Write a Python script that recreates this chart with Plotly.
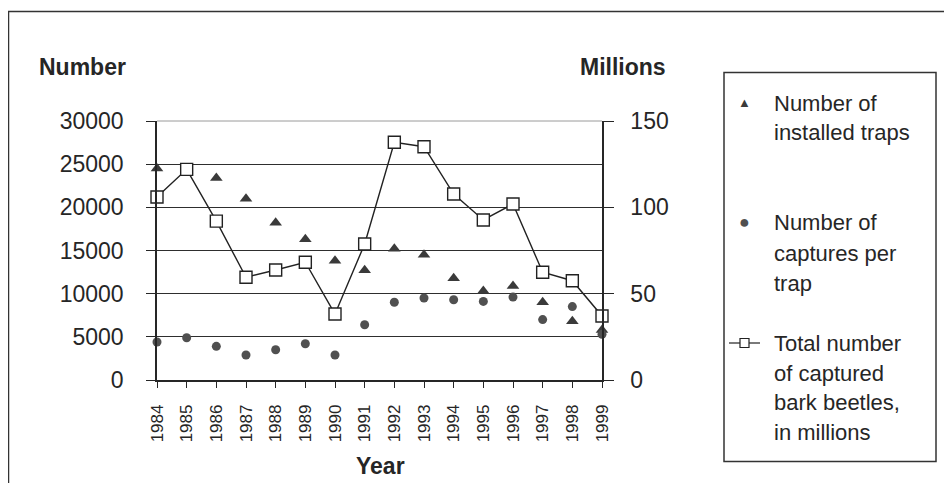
import plotly.graph_objects as go

# ---- data ----
years = [1984, 1985, 1986, 1987, 1988, 1989, 1990, 1991, 1992, 1993, 1994, 1995, 1996, 1997, 1998, 1999]
year_labels = [str(y) for y in years]
installed_traps = [24500, 24200, 23400, 21000, 18200, 16300, 13800, 12700, 15200, 14500, 11800, 10300, 10900, 9000, 6800, 5800]
captures_per_trap = [4400, 4900, 3900, 2900, 3500, 4200, 2900, 6400, 9000, 9500, 9300, 9100, 9600, 7000, 8500, 5300]
total_captured_millions = [106, 122, 92, 59.5, 63.7, 68.2, 38.2, 78.8, 137.7, 135.1, 107.7, 92.7, 101.9, 62.4, 57.5, 37.1]
left_ticks = [0, 5000, 10000, 15000, 20000, 25000, 30000]
left_tick_labels = ["0", "5000", "10000", "15000", "20000", "25000", "30000"]
right_ticks = [0, 50, 100, 150]
right_tick_labels = ["0", "50", "100", "150"]

# the page body has an 8px margin: figure is drawn in reference pixels minus 8
OFF = 8
W, H = 952 - 2 * OFF, 491 - 2 * OFF
L, R, T, B = 157, 602, 121, 380  # plot area in reference pixels


def px(x):
    return (x - L) / (R - L)


def py(y):
    return (B - y) / (B - T)


FONT = "Arial, Liberation Sans, sans-serif"
INK = "#262626"

fig = go.Figure()
fig.add_trace(go.Scatter(
    x=years, y=installed_traps, mode="markers", name="Number of installed traps",
    marker=dict(symbol="triangle-up", size=11, color="#3a3a3a"), yaxis="y", cliponaxis=False))
fig.add_trace(go.Scatter(
    x=years, y=captures_per_trap, mode="markers", name="Number of captures per trap",
    marker=dict(symbol="circle", size=9, color="#505050"), yaxis="y", cliponaxis=False))
fig.add_trace(go.Scatter(
    x=years, y=total_captured_millions, mode="lines+markers",
    name="Total number of captured bark beetles, in millions",
    line=dict(color="#222222", width=1.4),
    marker=dict(symbol="square", size=12, color="white", line=dict(color="#222222", width=1.4)),
    yaxis="y2", cliponaxis=False))

fig.update_layout(
    width=W, height=H, autosize=False,
    margin=dict(l=L - OFF, r=W - (R - OFF), t=T - OFF, b=H - (B - OFF), pad=0),
    paper_bgcolor="white", plot_bgcolor="white",
    showlegend=False,
    font=dict(family=FONT, color=INK),
    xaxis=dict(
        range=[years[0], years[-1]], tickmode="array", tickvals=years, ticktext=year_labels,
        tickangle=-90, tickfont=dict(size=17, color=INK), ticks="outside", ticklen=6,
        tickcolor=INK, ticklabelstandoff=10,
        showline=True, linecolor=INK, linewidth=1.5, showgrid=False, zeroline=False),
    yaxis=dict(
        range=[0, 30000], tickmode="array", tickvals=left_ticks, ticktext=left_tick_labels,
        tickfont=dict(size=23, color=INK), ticks="outside", ticklen=9, tickcolor=INK,
        ticklabelstandoff=18,
        showline=True, linecolor=INK, linewidth=1.5,
        showgrid=True, gridcolor="#2e2e2e", gridwidth=1.3, zeroline=False),
    yaxis2=dict(
        range=[0, 150], tickmode="array", tickvals=right_ticks, ticktext=right_tick_labels,
        overlaying="y", side="right",
        tickfont=dict(size=23, color=INK), ticks="outside", ticklen=10, tickcolor=INK,
        ticklabelstandoff=12,
        showline=True, linecolor=INK, linewidth=1.5, showgrid=False, zeroline=False),
)

shapes = [
    # outer frame (only top and left edges visible in the crop)
    dict(type="rect", xref="paper", yref="paper", x0=px(8.5), x1=px(990), y0=py(530), y1=py(11.5),
         line=dict(color="#333333", width=1.5), fillcolor="rgba(0,0,0,0)", layer="below"),
    # light top border of the plot area
    dict(type="line", xref="paper", yref="paper", x0=0, x1=1, y0=1, y1=1,
         line=dict(color="#9a9a9a", width=1), layer="below"),
    # legend box
    dict(type="rect", xref="paper", yref="paper", x0=px(724), x1=px(936), y0=py(461.5), y1=py(72.5),
         line=dict(color="#333333", width=1.5), fillcolor="rgba(0,0,0,0)"),
    # legend key for the line series
    dict(type="line", xref="paper", yref="paper", x0=px(729), x1=px(760), y0=py(343), y1=py(343),
         line=dict(color="#222222", width=1.2)),
    dict(type="rect", xref="paper", yref="paper", x0=px(740), x1=px(749), y0=py(347.5), y1=py(338.5),
         line=dict(color="#222222", width=1.2), fillcolor="white"),
]
fig.update_layout(shapes=shapes)

ann = []


def text(x, y, s, size=23, bold=False, xanchor="left", color=INK):
    ann.append(dict(xref="paper", yref="paper", x=px(x), y=py(y), text=f"<b>{s}</b>" if bold else s,
                    showarrow=False, xanchor=xanchor, yanchor="middle",
                    font=dict(family=FONT, size=size, color=color)))


text(37, 67, "Number", bold=True)
text(668, 67, "Millions", bold=True, xanchor="right")
text(380, 466, "Year", bold=True, xanchor="center")

legend_lines = [
    (104, "Number of"), (132, "installed traps"),
    (222, "Number of"), (253, "captures per"), (283, "trap"),
    (343, "Total number"), (373, "of captured"), (402, "bark beetles,"), (432, "in millions"),
]
for y, s in legend_lines:
    text(772, y, s, size=22)

# legend keys for the marker series
text(744, 103, "▲", size=13, xanchor="center", color="#3a3a3a")
text(744, 222, "●", size=18, xanchor="center", color="#505050")

fig.update_layout(annotations=ann)

fig.write_html("out.html")
